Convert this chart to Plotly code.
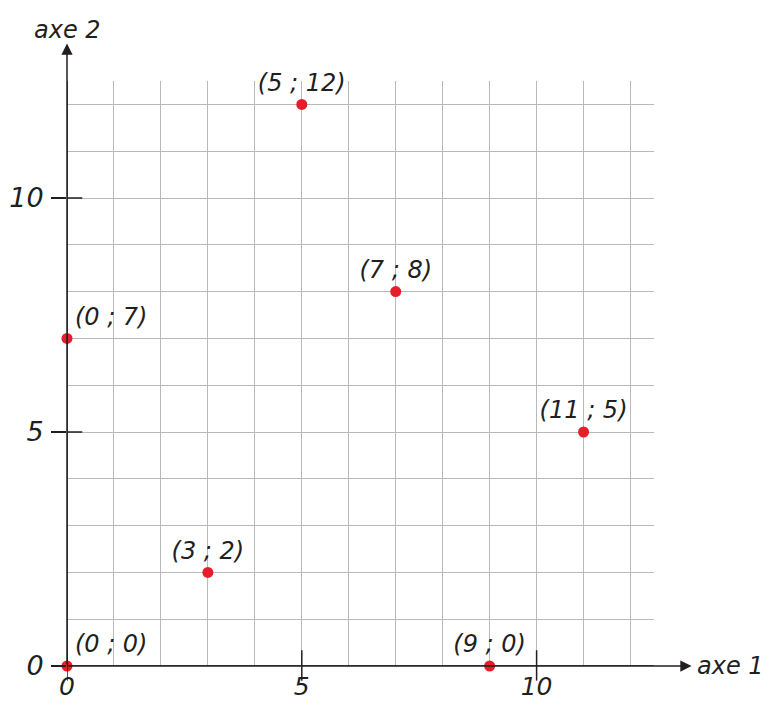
import plotly.graph_objects as go

# points of the plane
xs = [0, 3, 0, 5, 7, 11, 9]
ys = [0, 2, 7, 12, 8, 5, 0]
positions = ["top right", "top center", "top right", "top center",
             "top center", "top center", "top center"]
tick_vals = [0, 5, 10]
axis_names = ["axe 1", "axe 2"]

INK = "#231f20"
GRID = "#b9b9bc"
FONT = "DejaVu Sans"

labels = [f"({x} ; {y})" for x, y in zip(xs, ys)]

fig = go.Figure()

fig.add_scatter(
    x=xs,
    y=ys,
    mode="markers+text",
    text=labels,
    textposition=positions,
    textfont={"family": FONT, "size": 24, "color": INK, "style": "italic"},
    marker={"color": "#e61e2a", "size": 11},
    cliponaxis=False,
    showlegend=False,
)

# tick marks crossing the axes (x ticks drawn by hand so the labels fit the page)
for v in tick_vals:
    fig.add_shape(type="line", xref="x", yref="paper", x0=v, x1=v, y0=-0.025, y1=0.027,
                  line={"color": INK, "width": 1.5})
for v in tick_vals[1:]:
    fig.add_shape(type="line", xref="paper", yref="y", x0=0, x1=0.026, y0=v, y1=v,
                  line={"color": INK, "width": 1.5})

# axis arrows
fig.add_annotation(x=13.3, y=0, ax=0, ay=0, xref="x", yref="y", axref="x", ayref="y",
                   text="", showarrow=True, arrowhead=2, arrowsize=1.5, arrowwidth=1.5,
                   arrowcolor=INK)
fig.add_annotation(x=0, y=13.3, ax=0, ay=0, xref="x", yref="y", axref="x", ayref="y",
                   text="", showarrow=True, arrowhead=2, arrowsize=1.5, arrowwidth=1.5,
                   arrowcolor=INK)

name_font = {"family": FONT, "size": 24, "color": INK, "style": "italic"}
fig.add_annotation(x=1.07, y=0, xref="paper", yref="paper", text=axis_names[0],
                   showarrow=False, xanchor="left", yanchor="middle", font=name_font)
fig.add_annotation(x=0, y=1.06, xref="paper", yref="paper", text=axis_names[1],
                   showarrow=False, xanchor="center", yanchor="bottom", font=name_font)

axis_common = dict(
    range=[0, 12.5],
    tickvals=tick_vals,
    showline=False,
    zeroline=False,
    showgrid=True,
    gridcolor=GRID,
    gridwidth=1.2,
    minor={"dtick": 1, "showgrid": True, "gridcolor": GRID, "gridwidth": 1.2},
    tickfont={"family": FONT, "size": 27, "color": INK, "style": "italic"},
    automargin=False,
    fixedrange=True,
)

fig.update_xaxes(**axis_common)
fig.update_xaxes(ticks="", ticklabelstandoff=3,
                 tickfont={"family": FONT, "size": 25, "color": INK, "style": "italic"})
fig.update_yaxes(**axis_common, ticks="outside", ticklen=15, tickwidth=1.5,
                 tickcolor=INK, ticklabelstandoff=2)

# axis lines drawn over the grid
fig.add_shape(type="line", xref="x", yref="y", x0=0, x1=13, y0=0, y1=0,
              line={"color": INK, "width": 1.5})
fig.add_shape(type="line", xref="x", yref="y", x0=0, x1=0, y0=0, y1=13,
              line={"color": INK, "width": 1.5})

# the page adds an 8px body margin, so the figure is sized to fit inside it
fig.update_layout(
    width=760,
    height=698,
    margin={"l": 59, "r": 114, "t": 73, "b": 40},
    plot_bgcolor="white",
    paper_bgcolor="white",
)

fig.write_html("out.html")
